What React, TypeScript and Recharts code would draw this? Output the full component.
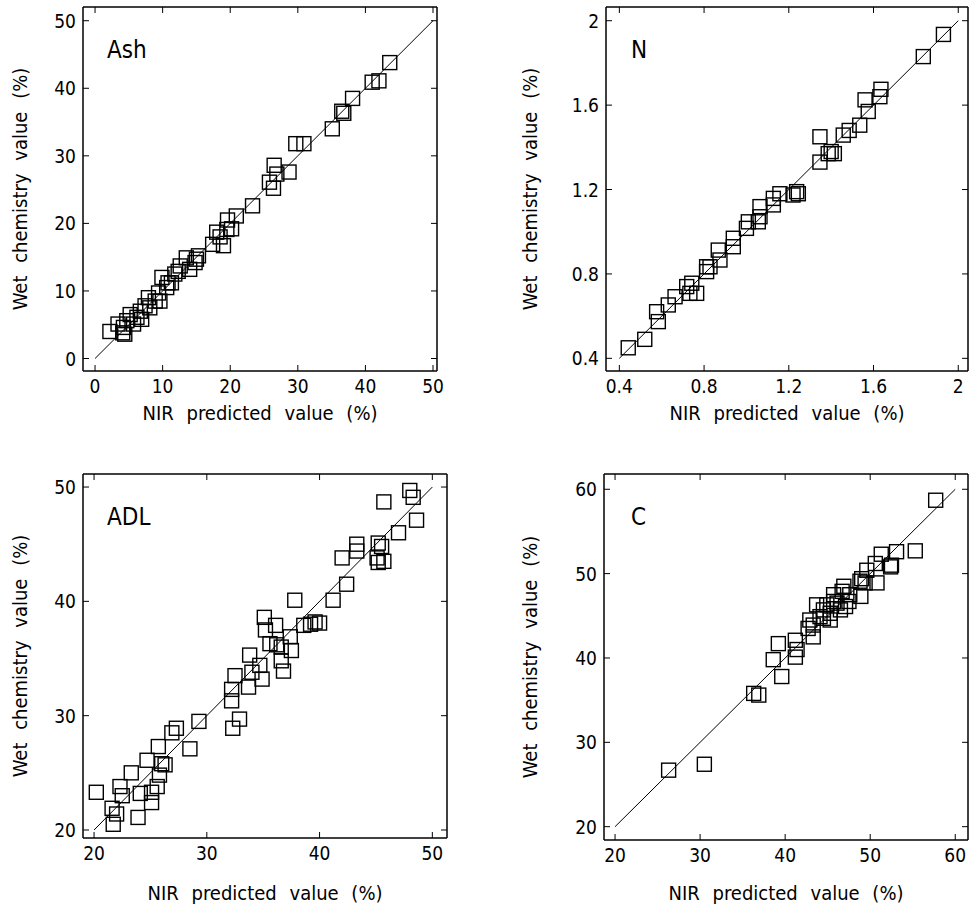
import React from "react";
import { ReferenceLine, Scatter, ScatterChart, XAxis, YAxis, Label } from "recharts";

const FONT = "'Liberation Sans Narrow', 'DejaVu Sans Condensed', Roboto, sans-serif";

// Ash
const ashNir = [43.6, 41.0, 42.0, 38.1, 36.5, 36.8, 35.1, 29.7, 30.9, 26.5, 26.9, 28.7, 25.8, 26.4, 23.3, 20.9, 19.6, 20.2, 18.0, 18.5, 19.0, 17.4, 15.3, 14.8, 13.5, 14.0, 12.3, 11.8, 11.3, 9.9, 10.6, 9.4, 8.9, 7.9, 7.4, 6.7, 6.2, 5.2, 4.7, 4.2, 4.4, 4.1, 2.2, 3.4, 6.9, 5.7, 8.1, 9.6, 10.8, 12.6, 15.0, 19.5];
const ashWet = [43.8, 40.9, 41.1, 38.5, 36.6, 36.3, 34.0, 31.8, 31.8, 28.6, 27.3, 27.6, 26.1, 25.2, 22.6, 21.1, 20.5, 19.2, 18.7, 18.0, 16.7, 16.9, 15.2, 14.2, 14.9, 13.2, 12.9, 12.5, 11.2, 12.0, 10.5, 9.7, 8.5, 9.0, 7.8, 7.0, 6.1, 6.5, 5.6, 4.6, 3.6, 3.8, 4.0, 5.1, 5.8, 5.1, 7.5, 8.5, 11.2, 13.7, 14.7, 19.1];
const ashTicks = [0, 10, 20, 30, 40, 50];
const ashLine = [0, 50];

// N
const nNir = [1.93, 1.835, 1.635, 1.63, 1.56, 1.575, 1.535, 1.485, 1.457, 1.347, 1.4, 1.386, 1.415, 1.347, 1.237, 1.22, 1.245, 1.158, 1.127, 1.127, 1.064, 1.064, 1.056, 1.009, 1.0, 0.938, 0.938, 0.867, 0.875, 0.812, 0.812, 0.828, 0.718, 0.742, 0.765, 0.733, 0.663, 0.631, 0.576, 0.584, 0.52, 0.442];
const nWet = [1.935, 1.83, 1.675, 1.64, 1.625, 1.57, 1.505, 1.48, 1.458, 1.45, 1.38, 1.37, 1.37, 1.33, 1.19, 1.174, 1.18, 1.18, 1.158, 1.127, 1.119, 1.071, 1.047, 1.047, 1.016, 0.969, 0.929, 0.913, 0.866, 0.834, 0.811, 0.834, 0.74, 0.756, 0.708, 0.708, 0.692, 0.653, 0.621, 0.574, 0.49, 0.45];
const nTicks = [0.4, 0.8, 1.2, 1.6, 2];
const nLine = [0.4, 2];

// ADL
const adlNir = [48.0, 48.3, 45.7, 48.6, 47.0, 43.3, 43.3, 42.0, 45.2, 45.5, 45.1, 45.7, 45.2, 42.4, 41.2, 37.8, 40.0, 39.6, 39.2, 38.6, 35.1, 36.1, 35.2, 37.4, 35.6, 36.2, 36.6, 37.5, 33.8, 34.7, 36.6, 36.8, 32.5, 34.0, 34.9, 33.7, 32.2, 32.2, 32.9, 32.3, 29.3, 27.3, 26.9, 28.5, 25.7, 24.7, 26.0, 26.3, 25.8, 23.3, 25.6, 25.1, 25.1, 24.1, 22.3, 22.5, 20.2, 21.6, 22.0, 21.7, 23.9];
const adlWet = [49.7, 49.1, 48.7, 47.1, 46.0, 45.0, 44.4, 43.8, 45.1, 44.8, 43.8, 43.5, 43.4, 41.5, 40.1, 40.1, 38.1, 38.2, 38.0, 37.9, 38.6, 37.9, 37.5, 36.9, 36.3, 36.2, 36.0, 35.7, 35.3, 34.4, 34.8, 33.9, 33.5, 33.8, 33.2, 32.5, 32.3, 31.3, 29.7, 28.9, 29.5, 28.9, 28.5, 27.1, 27.3, 26.1, 25.8, 25.7, 24.8, 25.0, 23.8, 23.3, 22.4, 23.2, 23.8, 23.0, 23.3, 21.9, 21.4, 20.5, 21.1];
const adlTicks = [20, 30, 40, 50];
const adlLine = [20, 50];

// C
const cNir = [57.7, 55.3, 53.1, 51.3, 52.5, 52.4, 50.6, 49.6, 49.0, 48.8, 49.4, 50.8, 48.9, 46.9, 46.7, 47.6, 45.7, 46.1, 47.5, 44.9, 43.7, 44.5, 45.3, 46.5, 44.1, 45.3, 42.9, 43.3, 42.7, 43.3, 41.2, 39.2, 41.4, 41.2, 38.6, 39.6, 36.3, 36.9, 30.5, 26.3, 45.7, 47.1, 44.5];
const cWet = [58.7, 52.7, 52.6, 52.3, 51.0, 50.8, 51.2, 50.4, 49.4, 49.1, 48.9, 48.9, 47.3, 48.5, 47.9, 47.5, 47.5, 46.5, 46.7, 46.3, 46.3, 45.7, 45.3, 45.7, 44.9, 44.5, 44.5, 43.9, 43.5, 42.5, 42.1, 41.7, 41.0, 40.1, 39.8, 37.8, 35.8, 35.6, 27.4, 26.7, 46.7, 46.1, 44.7];
const cTicks = [20, 30, 40, 50, 60];
const cLine = [20, 60];

const Square = (props: any) => {
  const { cx, cy } = props;
  return <rect x={cx - 7} y={cy - 7} width={14} height={14} fill="none" stroke="#000" strokeWidth={1.4} />;
};
const NoShape = () => <g />;

const fmtInt = (v: number) => String(v);
const fmtDec = (v: number) => (Number.isInteger(v) ? String(v) : v.toFixed(1));

const TICK = 6;

const bottomTick = (fmt: (v: number) => string) => (p: any) => (
  <g>
    <line x1={p.x} x2={p.x} y1={p.y} y2={p.y - TICK} stroke="#000" />
    <text x={p.x} y={p.y + 22} textAnchor="middle" fontSize={19} fontFamily={FONT} fill="#000">
      {fmt(p.payload.value)}
    </text>
  </g>
);
const leftTick = (fmt: (v: number) => string) => (p: any) => (
  <g>
    <line x1={p.x} x2={p.x + TICK} y1={p.y} y2={p.y} stroke="#000" />
    <text x={p.x - 7} y={p.y + 7} textAnchor="end" fontSize={19} fontFamily={FONT} fill="#000">
      {fmt(p.payload.value)}
    </text>
  </g>
);
const topTick = (p: any) => <line x1={p.x} x2={p.x} y1={p.y} y2={p.y + TICK} stroke="#000" />;
const rightTick = (p: any) => <line x1={p.x} x2={p.x - TICK} y1={p.y} y2={p.y} stroke="#000" />;

type PanelProps = {
  name: string;
  nir: number[];
  wet: number[];
  ticks: number[];
  line: number[];
  xDomain: [number, number];
  yDomain: [number, number];
  fmt: (v: number) => string;
  left: number;
  top: number;
  width: number;
  height: number;
  frame: { l: number; t: number; r: number; b: number };
  yTitleOffset: number;
  xTitleOffset: number;
  nameX: number;
  nameY: number;
};

function Panel(p: PanelProps) {
  const data = p.nir.map((x, i) => ({ x, y: p.wet[i] }));
  const f = p.frame;
  const axis = { stroke: "#000", strokeWidth: 1.5 };
  const titleStyle = { fontSize: 20, fontFamily: FONT, fill: "#000", wordSpacing: 7 };
  return (
    <div style={{ position: "absolute", left: p.left, top: p.top, width: p.width, height: p.height }}>
      <ScatterChart
        width={p.width}
        height={p.height}
        margin={{ top: f.t - p.top - 1, right: p.left + p.width - f.r - 1, bottom: 0, left: 0 }}
      >
        <XAxis
          type="number"
          dataKey="x"
          domain={p.xDomain}
          ticks={p.ticks}
          allowDataOverflow
          height={p.top + p.height - f.b}
          axisLine={axis}
          tickLine={false}
          tickSize={0}
          tickMargin={0}
          interval={0}
          tick={bottomTick(p.fmt)}
        >
          <Label value="NIR predicted value (%)" position="insideBottom" offset={p.xTitleOffset} style={titleStyle} />
        </XAxis>
        <XAxis
          xAxisId="top"
          orientation="top"
          type="number"
          dataKey="x"
          domain={p.xDomain}
          ticks={p.ticks}
          allowDataOverflow
          height={1}
          axisLine={axis}
          tickLine={false}
          tickSize={0}
          tickMargin={0}
          interval={0}
          tick={topTick}
        />
        <YAxis
          type="number"
          dataKey="y"
          domain={p.yDomain}
          ticks={p.ticks}
          allowDataOverflow
          width={f.l - p.left}
          axisLine={axis}
          tickLine={false}
          tickSize={0}
          tickMargin={0}
          interval={0}
          tick={leftTick(p.fmt)}
        >
          <Label
            value="Wet chemistry value (%)"
            angle={-90}
            position="insideLeft"
            offset={p.yTitleOffset}
            style={{ ...titleStyle, textAnchor: "middle" }}
          />
        </YAxis>
        <YAxis
          yAxisId="right"
          orientation="right"
          type="number"
          dataKey="y"
          domain={p.yDomain}
          ticks={p.ticks}
          allowDataOverflow
          width={1}
          axisLine={axis}
          tickLine={false}
          tickSize={0}
          tickMargin={0}
          interval={0}
          tick={rightTick}
        />
        <ReferenceLine
          segment={[
            { x: p.line[0], y: p.line[0] },
            { x: p.line[1], y: p.line[1] },
          ]}
          stroke="#000"
          strokeWidth={1}
        />
        <Scatter data={data} shape={Square} isAnimationActive={false} />
        <Scatter data={data} xAxisId="top" yAxisId="right" shape={NoShape} isAnimationActive={false} />
      </ScatterChart>
      <div
        style={{
          position: "absolute",
          left: p.nameX - p.left,
          top: p.nameY - p.top,
          fontFamily: FONT,
          fontSize: 24,
          lineHeight: 1,
          color: "#000",
        }}
      >
        {p.name}
      </div>
    </div>
  );
}

export default function App() {
  return (
    <div style={{ position: "absolute", left: 0, top: 0, width: 977, height: 914, background: "#fff" }}>
      <Panel
        name="Ash"
        nir={ashNir}
        wet={ashWet}
        ticks={ashTicks}
        line={ashLine}
        xDomain={[-1.78, 50.59]}
        yDomain={[-1.85, 52.03]}
        fmt={fmtInt}
        left={0}
        top={0}
        width={460}
        height={450}
        frame={{ l: 83, t: 7, r: 437, b: 371 }}
        yTitleOffset={20}
        xTitleOffset={30}
        nameX={107}
        nameY={38}
      />
      <Panel
        name="N"
        nir={nNir}
        wet={nWet}
        ticks={nTicks}
        line={nLine}
        xDomain={[0.337, 2.046]}
        yDomain={[0.34, 2.065]}
        fmt={fmtDec}
        left={480}
        top={0}
        width={497}
        height={450}
        frame={{ l: 606, t: 7, r: 968, b: 371 }}
        yTitleOffset={50}
        xTitleOffset={30}
        nameX={631}
        nameY={38}
      />
      <Panel
        name="ADL"
        nir={adlNir}
        wet={adlWet}
        ticks={adlTicks}
        line={adlLine}
        xDomain={[19.02, 51.3]}
        yDomain={[19.3, 51.14]}
        fmt={fmtInt}
        left={0}
        top={450}
        width={470}
        height={464}
        frame={{ l: 83, t: 474, r: 447, b: 838 }}
        yTitleOffset={20}
        xTitleOffset={14}
        nameX={107}
        nameY={505}
      />
      <Panel
        name="C"
        nir={cNir}
        wet={cWet}
        ticks={cTicks}
        line={cLine}
        xDomain={[18.7, 61.5]}
        yDomain={[18.42, 61.81]}
        fmt={fmtInt}
        left={480}
        top={450}
        width={497}
        height={464}
        frame={{ l: 604, t: 474, r: 968, b: 840 }}
        yTitleOffset={50}
        xTitleOffset={14}
        nameX={631}
        nameY={505}
      />
    </div>
  );
}
